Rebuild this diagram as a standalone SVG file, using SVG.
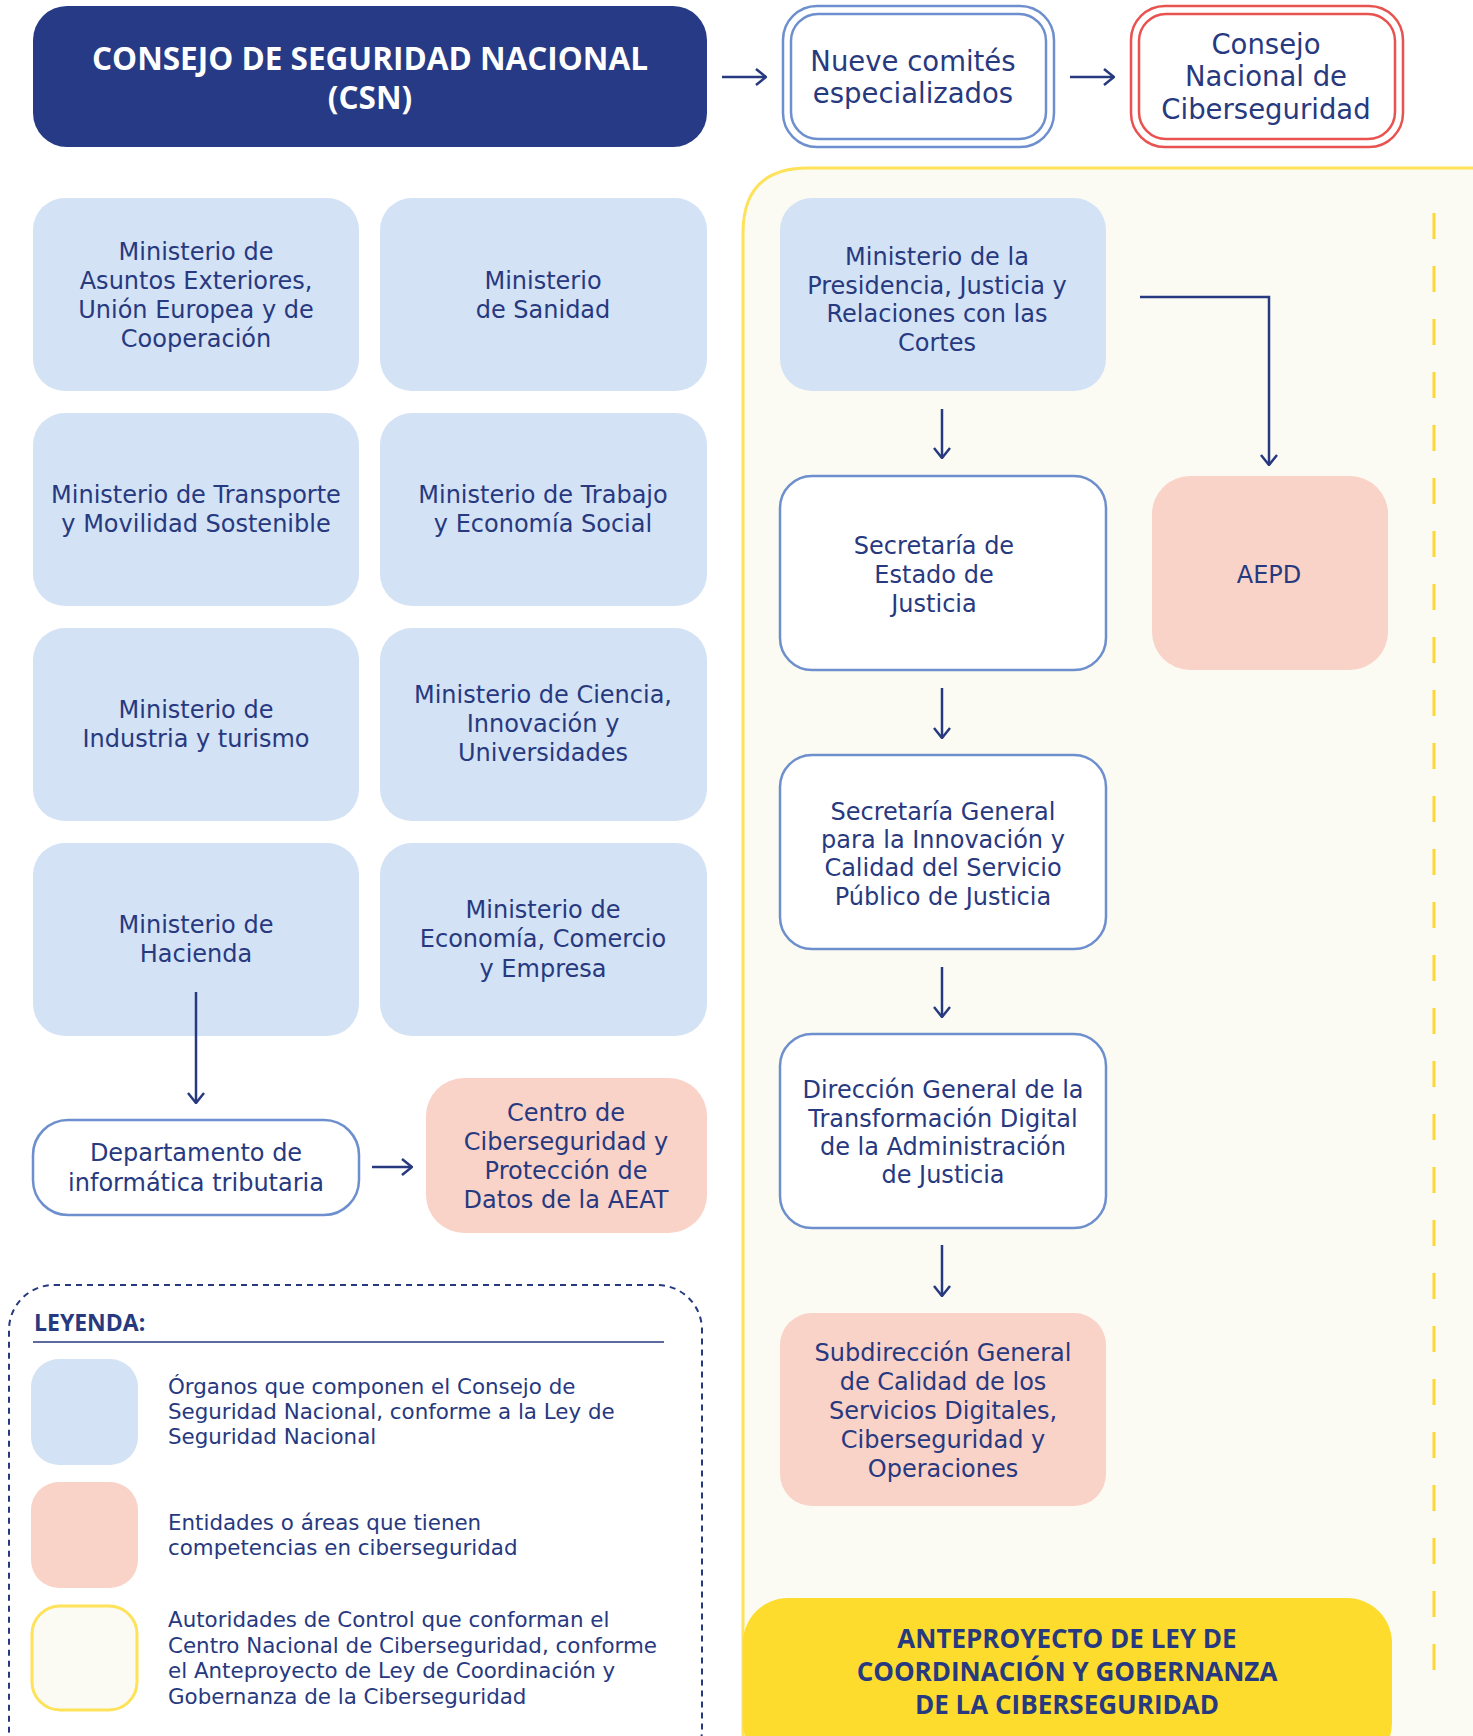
<svg xmlns="http://www.w3.org/2000/svg" width="1473" height="1736" viewBox="0 0 1473 1736">
<defs>
<style>
.t{font-family:"DejaVu Sans","Open Sans",sans-serif;fill:#27397f;font-size:24px;text-anchor:middle}
.tm{font-family:"DejaVu Sans","Open Sans",sans-serif;fill:#27397f;font-size:27.5px;text-anchor:middle}
.tb{font-family:"Open Sans","Liberation Sans",sans-serif;fill:#27397f;font-weight:700;text-anchor:middle}
.lg{font-family:"DejaVu Sans","Open Sans",sans-serif;fill:#27397f;font-size:21.4px}
.blue{fill:#d3e2f5}
.pink{fill:#f9d2c8}
.wb{fill:#ffffff;stroke:#6e8fcd;stroke-width:2.5}
.con{fill:none;stroke:#27397f;stroke-width:2.5}
</style>
<marker id="ah" viewBox="0 0 12 18" refX="11" refY="9" markerWidth="12" markerHeight="18" markerUnits="userSpaceOnUse" orient="auto">
<path d="M1 1 L11 9 L1 17" fill="none" stroke="#27397f" stroke-width="2.5"/>
</marker>
</defs>
<rect width="1473" height="1736" fill="#ffffff"/>

<g id="yellow-region">
<path d="M743 1760 V233 Q743 168 808 168 H1480 V1760 Z" fill="#fcfbf3" stroke="#fde25a" stroke-width="3"/>
<line x1="1434" y1="213" x2="1434" y2="1683" stroke="#fdd835" stroke-width="3" stroke-dasharray="26 27"/>
</g>

<g id="csn">
<rect x="33" y="6" width="674" height="141" rx="34" fill="#263a85"/>
<text class="tb" x="370" y="70" font-size="31.5" style="fill:#ffffff">CONSEJO DE SEGURIDAD NACIONAL</text>
<text class="tb" x="370" y="109" font-size="31.5" style="fill:#ffffff">(CSN)</text>
</g>

<g id="nueve">
<rect x="783" y="6" width="271" height="141" rx="34" fill="#ffffff" stroke="#6e8fcd" stroke-width="2.5"/>
<rect x="791" y="14" width="255" height="125" rx="27" fill="none" stroke="#6e8fcd" stroke-width="2.5"/>
<text class="tm" x="913" y="71">Nueve comités</text>
<text class="tm" x="913" y="103">especializados</text>
</g>

<g id="consejo-nacional">
<rect x="1131" y="6" width="272" height="141" rx="34" fill="#ffffff" stroke="#e9534f" stroke-width="2.5"/>
<rect x="1139" y="14" width="256" height="125" rx="27" fill="none" stroke="#e9534f" stroke-width="2.5"/>
<text class="tm" x="1266" y="54">Consejo</text>
<text class="tm" x="1266" y="86">Nacional de</text>
<text class="tm" x="1266" y="119">Ciberseguridad</text>
</g>

<g id="m-exteriores">
<rect class="blue" x="33" y="198" width="326" height="193" rx="32"/>
<text class="t" x="196" y="260">Ministerio de</text>
<text class="t" x="196" y="289">Asuntos Exteriores,</text>
<text class="t" x="196" y="318">Unión Europea y de</text>
<text class="t" x="196" y="347">Cooperación</text>
</g>
<g id="m-sanidad">
<rect class="blue" x="380" y="198" width="327" height="193" rx="32"/>
<text class="t" x="543" y="289">Ministerio</text>
<text class="t" x="543" y="318">de Sanidad</text>
</g>
<g id="m-transporte">
<rect class="blue" x="33" y="413" width="326" height="193" rx="32"/>
<text class="t" x="196" y="503">Ministerio de Transporte</text>
<text class="t" x="196" y="532">y Movilidad Sostenible</text>
</g>
<g id="m-trabajo">
<rect class="blue" x="380" y="413" width="327" height="193" rx="32"/>
<text class="t" x="543" y="503">Ministerio de Trabajo</text>
<text class="t" x="543" y="532">y Economía Social</text>
</g>
<g id="m-industria">
<rect class="blue" x="33" y="628" width="326" height="193" rx="32"/>
<text class="t" x="196" y="718">Ministerio de</text>
<text class="t" x="196" y="747">Industria y turismo</text>
</g>
<g id="m-ciencia">
<rect class="blue" x="380" y="628" width="327" height="193" rx="32"/>
<text class="t" x="543" y="703">Ministerio de Ciencia,</text>
<text class="t" x="543" y="732">Innovación y</text>
<text class="t" x="543" y="761">Universidades</text>
</g>
<g id="m-hacienda">
<rect class="blue" x="33" y="843" width="326" height="193" rx="32"/>
<text class="t" x="196" y="933">Ministerio de</text>
<text class="t" x="196" y="962">Hacienda</text>
</g>
<g id="m-economia">
<rect class="blue" x="380" y="843" width="327" height="193" rx="32"/>
<text class="t" x="543" y="918">Ministerio de</text>
<text class="t" x="543" y="947">Economía, Comercio</text>
<text class="t" x="543" y="977">y Empresa</text>
</g>
<g id="departamento">
<rect class="wb" x="33" y="1120" width="326" height="95" rx="35"/>
<text class="t" x="196" y="1161">Departamento de</text>
<text class="t" x="196" y="1191">informática tributaria</text>
</g>
<g id="centro-aeat">
<rect class="pink" x="426" y="1078" width="281" height="155" rx="38"/>
<text class="t" x="566" y="1121">Centro de</text>
<text class="t" x="566" y="1150">Ciberseguridad y</text>
<text class="t" x="566" y="1179">Protección de</text>
<text class="t" x="566" y="1208">Datos de la AEAT</text>
</g>

<g id="m-presidencia">
<rect class="blue" x="780" y="198" width="326" height="193" rx="32"/>
<text class="t" x="937" y="265">Ministerio de la</text>
<text class="t" x="937" y="294">Presidencia, Justicia y</text>
<text class="t" x="937" y="322">Relaciones con las</text>
<text class="t" x="937" y="351">Cortes</text>
</g>
<g id="sec-estado">
<rect class="wb" x="780" y="476" width="326" height="194" rx="32"/>
<text class="t" x="934" y="554">Secretaría de</text>
<text class="t" x="934" y="583">Estado de</text>
<text class="t" x="934" y="612">Justicia</text>
</g>
<g id="sec-general">
<rect class="wb" x="780" y="755" width="326" height="194" rx="32"/>
<text class="t" x="943" y="820">Secretaría General</text>
<text class="t" x="943" y="848">para la Innovación y</text>
<text class="t" x="943" y="876">Calidad del Servicio</text>
<text class="t" x="943" y="905">Público de Justicia</text>
</g>
<g id="direccion">
<rect class="wb" x="780" y="1034" width="326" height="194" rx="32"/>
<text class="t" x="943" y="1098">Dirección General de la</text>
<text class="t" x="943" y="1127">Transformación Digital</text>
<text class="t" x="943" y="1155">de la Administración</text>
<text class="t" x="943" y="1183">de Justicia</text>
</g>
<g id="subdireccion">
<rect class="pink" x="780" y="1313" width="326" height="193" rx="32"/>
<text class="t" x="943" y="1361">Subdirección General</text>
<text class="t" x="943" y="1390">de Calidad de los</text>
<text class="t" x="943" y="1419">Servicios Digitales,</text>
<text class="t" x="943" y="1448">Ciberseguridad y</text>
<text class="t" x="943" y="1477">Operaciones</text>
</g>
<g id="aepd">
<rect class="pink" x="1152" y="476" width="236" height="194" rx="38"/>
<text class="t" x="1269" y="583">AEPD</text>
</g>

<g id="anteproyecto">
<rect x="743" y="1598" width="649" height="170" rx="45" fill="#fddc2e"/>
<text class="tb" x="1067" y="1648" font-size="26">ANTEPROYECTO DE LEY DE</text>
<text class="tb" x="1067" y="1681" font-size="26">COORDINACIÓN Y GOBERNANZA</text>
<text class="tb" x="1067" y="1714" font-size="26">DE LA CIBERSEGURIDAD</text>
</g>

<g id="connectors">
<line class="con" x1="722" y1="77" x2="766" y2="77" marker-end="url(#ah)"/>
<line class="con" x1="1070" y1="77" x2="1114" y2="77" marker-end="url(#ah)"/>
<line class="con" x1="196" y1="992" x2="196" y2="1103" marker-end="url(#ah)"/>
<line class="con" x1="372" y1="1167" x2="412" y2="1167" marker-end="url(#ah)"/>
<line class="con" x1="942" y1="409" x2="942" y2="458" marker-end="url(#ah)"/>
<line class="con" x1="942" y1="688" x2="942" y2="738" marker-end="url(#ah)"/>
<line class="con" x1="942" y1="967" x2="942" y2="1017" marker-end="url(#ah)"/>
<line class="con" x1="942" y1="1245" x2="942" y2="1296" marker-end="url(#ah)"/>
<path class="con" d="M1140 297 H1269 V465" marker-end="url(#ah)"/>
</g>

<g id="legend">
<rect x="9" y="1285" width="693" height="490" rx="45" fill="none" stroke="#27397f" stroke-width="2" stroke-dasharray="6 5"/>
<text class="tb" x="34" y="1331" font-size="23" style="text-anchor:start">LEYENDA:</text>
<line x1="33" y1="1342" x2="664" y2="1342" stroke="#27397f" stroke-width="1.5"/>
<rect class="blue" x="31" y="1359" width="107" height="106" rx="28"/>
<rect class="pink" x="31" y="1482" width="107" height="106" rx="28"/>
<rect x="32" y="1606" width="105" height="104" rx="28" fill="#fcfbf3" stroke="#fde25a" stroke-width="3"/>
<text class="lg" x="168" y="1394">Órganos que componen el Consejo de</text>
<text class="lg" x="168" y="1419">Seguridad Nacional, conforme a la Ley de</text>
<text class="lg" x="168" y="1444">Seguridad Nacional</text>
<text class="lg" x="168" y="1530">Entidades o áreas que tienen</text>
<text class="lg" x="168" y="1555">competencias en ciberseguridad</text>
<text class="lg" x="168" y="1627">Autoridades de Control que conforman el</text>
<text class="lg" x="168" y="1653">Centro Nacional de Ciberseguridad, conforme</text>
<text class="lg" x="168" y="1678">el Anteproyecto de Ley de Coordinación y</text>
<text class="lg" x="168" y="1704">Gobernanza de la Ciberseguridad</text>
</g>
</svg>
